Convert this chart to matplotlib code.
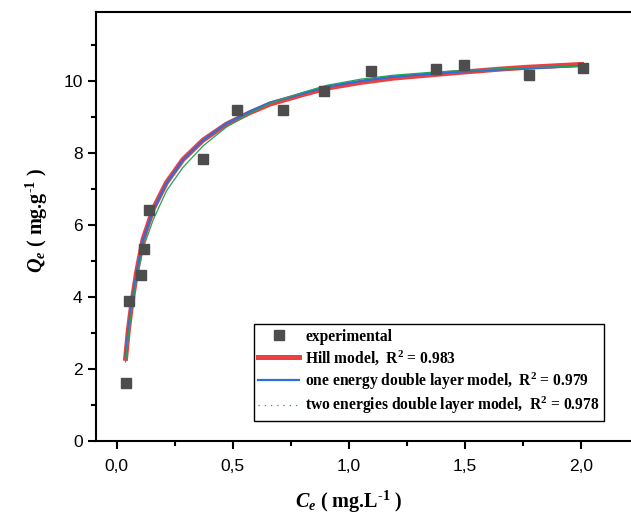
import matplotlib.pyplot as plt
from matplotlib.lines import Line2D
from matplotlib.ticker import MultipleLocator, FuncFormatter

# experimental points
ce_exp = [0.039, 0.052, 0.103, 0.116, 0.138, 0.37, 0.517, 0.716, 0.892, 1.095, 1.375, 1.496, 1.776, 2.009]
qe_exp = [1.61, 3.89, 4.61, 5.33, 6.42, 7.83, 9.19, 9.19, 9.72, 10.28, 10.33, 10.44, 10.17, 10.36]

# model curves
ce_fit = [0.038, 0.05, 0.063, 0.085, 0.113, 0.157, 0.214, 0.285, 0.372, 0.472, 0.573, 0.66,
          0.8, 0.904, 1.05, 1.191, 1.35, 1.478, 1.65, 1.766, 2.003]
hill = [2.30, 3.10, 3.75, 4.68, 5.60, 6.45, 7.18, 7.82, 8.36, 8.80, 9.12, 9.36,
        9.62, 9.80, 9.96, 10.08, 10.17, 10.24, 10.33, 10.38, 10.46]
one_energy = [2.35, 3.10, 3.73, 4.66, 5.58, 6.42, 7.16, 7.81, 8.36, 8.82, 9.15, 9.40,
              9.65, 9.84, 10.00, 10.12, 10.20, 10.26, 10.32, 10.35, 10.42]
two_energy = [2.20, 2.95, 3.60, 4.50, 5.35, 6.15, 6.95, 7.60, 8.20, 8.72, 9.10, 9.38,
              9.68, 9.88, 10.05, 10.16, 10.24, 10.29, 10.34, 10.37, 10.41]

labels = ['experimental',
          r'Hill model,  R$^{2}$ = 0.983',
          r'one energy double layer model,  R$^{2}$ = 0.979',
          r'two energies double layer model,  R$^{2}$ = 0.978']

plt.rcParams['mathtext.fontset'] = 'custom'
plt.rcParams['mathtext.rm'] = 'Liberation Serif:weight=bold'
plt.rcParams['mathtext.bf'] = 'Liberation Serif:weight=bold'
plt.rcParams['mathtext.it'] = 'Liberation Serif:style=italic:weight=bold'

fig = plt.figure(figsize=(6.31, 5.16), dpi=100)
ax = fig.add_axes([0.152, 0.145, 0.848, 0.832])

ax.plot(ce_exp, qe_exp, 's', color='#4d4d4d', ms=7.5, zorder=5)
ax.plot(ce_fit, hill, color='#ec4040', lw=3.6)
ax.plot(ce_fit, one_energy, color='#2a6fdb', lw=1.6)
ax.plot(ce_fit, two_energy, color='#22a35a', lw=0.9)

ax.set_xlim(-0.09, 2.216)
ax.set_ylim(0, 11.92)

for s in ['top', 'left', 'bottom']:
    ax.spines[s].set_linewidth(1.5)
ax.spines['right'].set_visible(False)

ax.xaxis.set_major_locator(MultipleLocator(0.5))
ax.xaxis.set_minor_locator(MultipleLocator(0.25))
ax.yaxis.set_major_locator(MultipleLocator(2))
ax.yaxis.set_minor_locator(MultipleLocator(1))
ax.xaxis.set_major_formatter(FuncFormatter(lambda v, p: f'{v:.1f}'.replace('.', ',')))
ax.tick_params(which='major', direction='out', length=6, width=1.5, labelsize=12.5)
ax.tick_params(which='minor', direction='out', length=3.5, width=1.5)
for t in ax.get_xticklabels() + ax.get_yticklabels():
    t.set_family('Liberation Sans')
ax.tick_params(axis='x', pad=7)

ax.set_xlabel(r'$C_e$ ( mg.L$^{\text{-1}}$ )', fontsize=14.5, family='Liberation Serif',
              fontweight='bold')
ax.set_ylabel(r'$Q_e$ ( mg.g$^{\text{-1}}$ )', fontsize=14.5, family='Liberation Serif',
              fontweight='bold')
ax.xaxis.set_label_coords(0.473, -0.11)
ax.yaxis.set_label_coords(-0.085, 0.515)

handles = [Line2D([], [], ls='none', marker='s', color='#4d4d4d', ms=7.5),
           Line2D([], [], color='#ec4040', lw=3.6),
           Line2D([], [], color='#2a6fdb', lw=1.6),
           Line2D([], [], color='#22a35a', lw=0.9, ls=(0, (1, 4)))]
leg = ax.legend(handles, labels, loc='lower left', bbox_to_anchor=(0.295, 0.047),
                fancybox=False, edgecolor='black', framealpha=1,
                prop={'family': 'Liberation Serif', 'weight': 'bold', 'size': 11.2},
                handlelength=2.6, handletextpad=0.4, borderpad=0.3, labelspacing=0.22,
                borderaxespad=0)
leg.get_frame().set_linewidth(1.0)

fig.savefig('out.png', dpi=100)
